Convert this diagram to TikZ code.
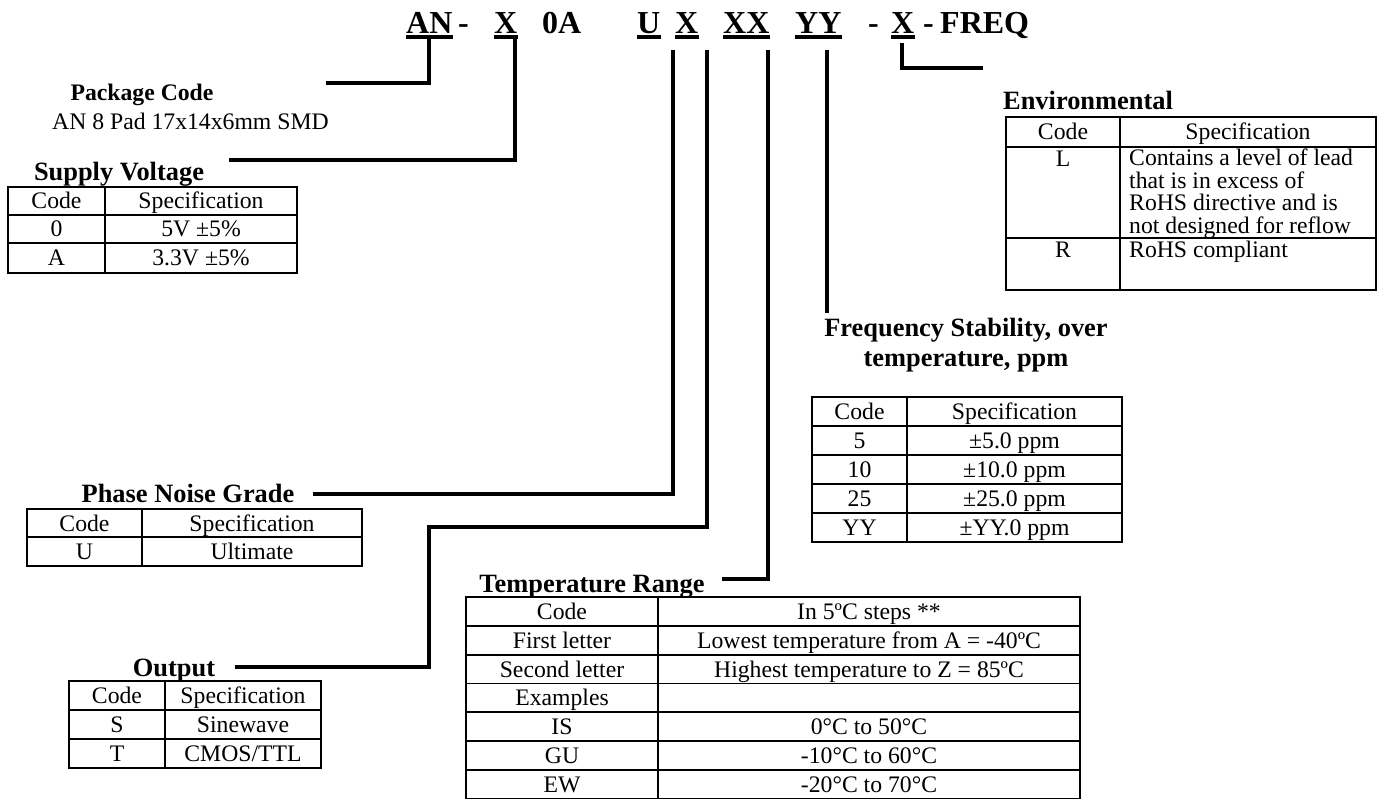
\documentclass[tikz,border=0pt]{standalone}
\usepackage{fontspec}
\setmainfont{Liberation Serif}

\begin{document}
\begin{tikzpicture}[
  x=1pt, y=-1pt,
  cell/.style={inner sep=0pt, anchor=base, font=\fontsize{23.7}{22.5}\selectfont},
  head/.style={inner sep=0pt, anchor=base, font=\fontsize{26.4}{30}\selectfont\bfseries},
  code/.style={inner sep=0pt, anchor=base west, font=\fontsize{32}{36}\selectfont\bfseries},
  uline/.style={line width=4pt},
  lead/.style={line width=3.3pt},
  grid/.style={line width=1.8pt},
]
\useasboundingbox (0,0) rectangle (1382,799);

% Part number
\node[code] (an) at (406,34) {AN};
\node[code] (d1) at (458,34) {-};
\node[code] (vx) at (494,34) {X};
\node[code] (oa) at (542,34) {0A};
\node[code] (pu) at (637,34) {U};
\node[code] (ox) at (675,34) {X};
\node[code] (tx) at (723,34) {XX};
\node[code] (fy) at (795,34) {YY};
\node[code] (d2) at (868,34) {-};
\node[code] (ex) at (891,34) {X};
\node[code] (d3) at (923,34) {-};
\node[code] (fq) at (940,34) {FREQ};

\draw[uline] ([yshift=-3pt]an.base west) -- ([yshift=-3pt]an.base east);
\draw[uline] ([yshift=-3pt]vx.base west) -- ([yshift=-3pt]vx.base east);
\draw[uline] ([yshift=-3pt]pu.base west) -- ([yshift=-3pt]pu.base east);
\draw[uline] ([yshift=-3pt]ox.base west) -- ([yshift=-3pt]ox.base east);
\draw[uline] ([yshift=-3pt]tx.base west) -- ([yshift=-3pt]tx.base east);
\draw[uline] ([yshift=-3pt]fy.base west) -- ([yshift=-3pt]fy.base east);
\draw[uline] ([yshift=-3pt]ex.base west) -- ([yshift=-3pt]ex.base east);

% Lead lines
\coordinate (anTop) at (429,37);
\coordinate (anEnd) at (326,83);
\coordinate (svTop) at (515,37);
\coordinate (svEnd) at (229,160);
\coordinate (pnTop) at (673,50);
\coordinate (pnEnd) at (313,494);
\coordinate (opTop) at (707,50);
\coordinate (opMid) at (429,527);
\coordinate (opEnd) at (235,667);
\coordinate (trTop) at (768,50);
\coordinate (trEnd) at (722,579);
\coordinate (fsTop) at (827,50);
\coordinate (fsEnd) at (827,313);
\coordinate (evTop) at (902,43);
\coordinate (evEnd) at (983,68);

\draw[lead] (anTop) |- (anEnd);
\draw[lead] (svTop) |- (svEnd);
\draw[lead] (pnTop) |- (pnEnd);
\draw[lead] (opTop) |- (opMid) |- (opEnd);
\draw[lead] (trTop) |- (trEnd);
\draw[lead] (fsTop) -- (fsEnd);
\draw[lead] (evTop) |- (evEnd);

% Package code
\node[cell, font=\fontsize{23.7}{22.5}\selectfont\bfseries] (pk) at (142,101) {Package Code};
\node[cell, anchor=base west] (pkt) at (52,130) {AN 8 Pad 17x14x6mm SMD};

% Supply voltage
\node[head] (sv) at (119,181) {Supply Voltage};
\draw[grid] (8,187) rectangle (297,273);
\draw[grid] (105,187) -- (105,273);
\draw[grid] (8,215) -- (297,215) (8,243) -- (297,243);
\node[cell] (svc) at (56.5,209) {Code};
\node[cell] (svs) at (201,209) {Specification};
\node[cell] (svc1) at (56.5,237) {0};
\node[cell] (svs1) at (201,237) {5V ±5\%};
\node[cell] (svc2) at (56.5,266) {A};
\node[cell] (svs2) at (201,266) {3.3V ±5\%};

% Phase noise grade
\node[head] (pn) at (188,502) {Phase Noise Grade};
\draw[grid] (27,509) rectangle (362,566);
\draw[grid] (142,509) -- (142,566);
\draw[grid] (27,537) -- (362,537);
\node[cell] (pnc) at (84.5,531) {Code};
\node[cell] (pns) at (252,531) {Specification};
\node[cell] (pnc1) at (84.5,559.5) {U};
\node[cell] (pns1) at (252,559.5) {Ultimate};

% Output
\node[head] (op) at (174,676) {Output};
\draw[grid] (69,681) rectangle (321,768);
\draw[grid] (165,681) -- (165,768);
\draw[grid] (69,710) -- (321,710) (69,739) -- (321,739);
\node[cell] (opc) at (117,703.5) {Code};
\node[cell] (ops) at (243,703.5) {Specification};
\node[cell] (opc1) at (117,732.5) {S};
\node[cell] (ops1) at (243,732.5) {Sinewave};
\node[cell] (opc2) at (117,761.5) {T};
\node[cell] (ops2) at (243,761.5) {CMOS/TTL};

% Temperature range
\node[head] (tr) at (592,592) {Temperature Range};
\draw[grid] (466,597) rectangle (1080,798.6);
\draw[grid] (658,597) -- (658,798.6);
\draw[grid] (466,625.8) -- (1080,625.8) (466,654.6) -- (1080,654.6)
  (466,683.4) -- (1080,683.4) (466,712.2) -- (1080,712.2)
  (466,741) -- (1080,741) (466,769.8) -- (1080,769.8);
\node[cell] (trc) at (562,619.4) {Code};
\node[cell] (trs) at (869,619.4) {In 5ºC steps **};
\node[cell] (trc1) at (562,648.2) {First letter};
\node[cell] (trs1) at (869,648.2) {Lowest temperature from A = -40ºC};
\node[cell] (trc2) at (562,677) {Second letter};
\node[cell] (trs2) at (869,677) {Highest temperature to Z = 85ºC};
\node[cell] (trc3) at (562,705.8) {Examples};
\node[cell] (trc4) at (562,734.6) {IS};
\node[cell] (trs4) at (869,734.6) {0°C to 50°C};
\node[cell] (trc5) at (562,763.4) {GU};
\node[cell] (trs5) at (869,763.4) {-10°C to 60°C};
\node[cell] (trc6) at (562,792.2) {EW};
\node[cell] (trs6) at (869,792.2) {-20°C to 70°C};

% Frequency stability
\node[head, anchor=north, align=center] (fs) at (966,318)
  {Frequency Stability, over\\temperature, ppm};
\draw[grid] (812,397) rectangle (1122,542);
\draw[grid] (907,397) -- (907,542);
\draw[grid] (812,426) -- (1122,426) (812,455) -- (1122,455)
  (812,484) -- (1122,484) (812,513) -- (1122,513);
\node[cell] (fsc) at (859.5,419.5) {Code};
\node[cell] (fss) at (1014.5,419.5) {Specification};
\node[cell] (fsc1) at (859.5,448.5) {5};
\node[cell] (fss1) at (1014.5,448.5) {±5.0 ppm};
\node[cell] (fsc2) at (859.5,477.5) {10};
\node[cell] (fss2) at (1014.5,477.5) {±10.0 ppm};
\node[cell] (fsc3) at (859.5,506.5) {25};
\node[cell] (fss3) at (1014.5,506.5) {±25.0 ppm};
\node[cell] (fsc4) at (859.5,535.5) {YY};
\node[cell] (fss4) at (1014.5,535.5) {±YY.0 ppm};

% Environmental
\node[head, anchor=base west] (ev) at (1003,110) {Environmental};
\draw[grid] (1006,117) rectangle (1376,290);
\draw[grid] (1120,117) -- (1120,290);
\draw[grid] (1006,147) -- (1376,147) (1006,238) -- (1376,238);
\node[cell] (evc) at (1063,140) {Code};
\node[cell] (evs) at (1248,140) {Specification};
\node[cell] (evc1) at (1063,167) {L};
\node[cell, anchor=north west, align=left] (evs1) at (1129,149)
  {Contains a level of lead\\that is in excess of\\RoHS directive and is\\not designed for reflow};
\node[cell] (evc2) at (1063,258) {R};
\node[cell, anchor=base west] (evs2) at (1129,258) {RoHS compliant};

\end{tikzpicture}
\end{document}
